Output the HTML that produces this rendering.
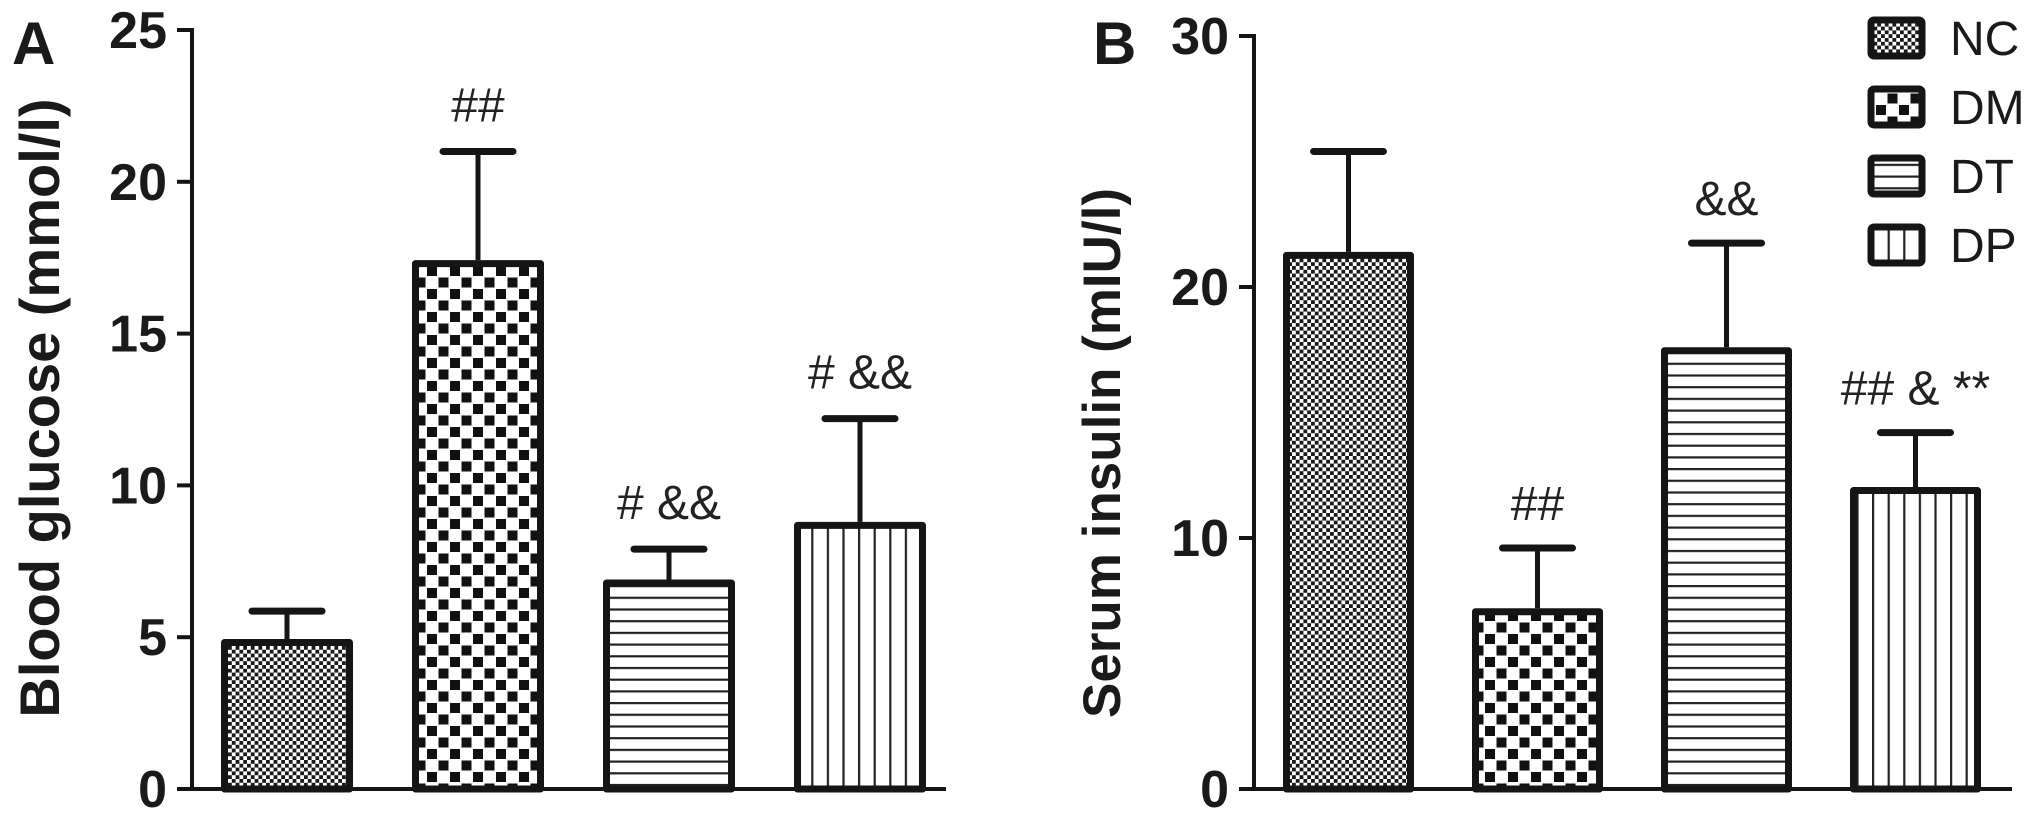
<!DOCTYPE html>
<html><head><meta charset="utf-8"><style>
html,body{margin:0;padding:0;background:#fff;}
svg{display:block;font-family:"Liberation Sans",Arial,sans-serif;}
</style></head><body>
<svg id="chart" width="2031" height="822" viewBox="0 0 2031 822" xmlns="http://www.w3.org/2000/svg">
<defs>
<pattern id="pNC" patternUnits="userSpaceOnUse" width="7.6" height="7.6">
<rect width="7.6" height="7.6" fill="#fff"/>
<rect x="0" y="0" width="3.8" height="3.8" fill="#1a1a1a"/><rect x="3.8" y="3.8" width="3.8" height="3.8" fill="#1a1a1a"/>
</pattern>
<pattern id="pDM" patternUnits="userSpaceOnUse" width="23" height="23">
<rect width="23" height="23" fill="#fff"/>
<rect x="1.5" y="1.5" width="10" height="10" fill="#111"/><rect x="13" y="13" width="10" height="10" fill="#111"/>
</pattern>
<pattern id="pDT" patternUnits="userSpaceOnUse" width="10" height="11.7">
<rect width="10" height="11.7" fill="#fff"/><rect y="0" width="10" height="2.2" fill="#222"/>
</pattern>
<pattern id="pDP" patternUnits="userSpaceOnUse" width="15.6" height="10">
<rect width="15.6" height="10" fill="#fff"/><rect x="0" width="2.2" height="10" fill="#222"/>
</pattern>
</defs>
<g id="gA"></g>
<g id="gB"></g>
<g id="legend"></g>
</svg>
<script>
const groups = ["NC","DM","DT","DP"];
const glucoseMeans = [4.94, 17.42, 6.9, 8.8];
const glucoseErrTop = [5.86, 21.0, 7.9, 12.2];
const glucoseNotes = ["", "##", "# &&", "# &&"];
const glucoseTicks = [0,5,10,15,20,25];
const insulinMeans = [21.4, 7.2, 17.6, 12.03];
const insulinErrTop = [25.4, 9.6, 21.75, 14.2];
const insulinNotes = ["", "##", "&&", "## & **"];
const insulinTicks = [0,10,20,30];

const NS = "http://www.w3.org/2000/svg";
function mk(tag, attrs, parent, text){
  const e = document.createElementNS(NS, tag);
  for (const k in attrs) e.setAttribute(k, attrs[k]);
  if (text !== undefined) e.textContent = text;
  parent.appendChild(e); return e;
}
const pats = ["url(#pNC)","url(#pDM)","url(#pDT)","url(#pDP)"];

function panel(g, cfg){
  const y = v => cfg.y0 - (v - 0) / cfg.max * (cfg.y0 - cfg.yTop);
  cfg.means.forEach((m,i)=>{
    const x = cfg.barX0 + i*cfg.pitch;
    const cx = x + cfg.bw/2;
    const e = mk("line",{x1:cx,x2:cx,y1:y(m),y2:y(cfg.err[i]),stroke:"#151515","stroke-width":5},g);
    
    
    const c = mk("line",{x1:cx-35,x2:cx+35,y1:y(cfg.err[i]),y2:y(cfg.err[i]),stroke:"#151515","stroke-width":7,"stroke-linecap":"round"},g);
    
    
    const r = mk("rect",{x:x+3.5,y:y(m)+3.5,width:cfg.bw-7,height:Math.max(0,cfg.y0-y(m)-3.5),fill:pats[i],stroke:"#151515","stroke-width":7,"stroke-linejoin":"round"},g);
    
    
    if (cfg.notes[i]){
      const t = mk("text",{x:cx,y:y(cfg.err[i])-cfg.noteGap,"text-anchor":"middle","font-size":48,fill:"#222"},g,cfg.notes[i]);
      
      
    }
  });
  const ya = mk("line",{x1:cfg.ax,x2:cfg.ax,y1:cfg.yTop-2,y2:cfg.y0+2,stroke:"#151515","stroke-width":4},g);
  
  
  const xa = mk("line",{x1:cfg.ax-15,x2:cfg.axEnd,y1:cfg.y0,y2:cfg.y0,stroke:"#151515","stroke-width":4},g);
  
  
  cfg.ticks.forEach(v=>{
    const tk = mk("line",{x1:cfg.ax-15,x2:cfg.ax,y1:y(v),y2:y(v),stroke:"#151515","stroke-width":4},g);
    
    
    const tl = mk("text",{x:cfg.ax-25,y:y(v)+18,"text-anchor":"end","font-size":52,"font-weight":"bold",fill:"#1a1a1a"},g,String(v));
    
    
  });
  const tt = mk("text",{x:0,y:0,"text-anchor":"middle","font-size":cfg.titleSize,"font-weight":"bold",fill:"#1a1a1a",transform:`translate(${cfg.titleX},${cfg.titleY}) rotate(-90)`},g,cfg.title);
  
  
  const pl = mk("text",{x:cfg.labelX,y:64,"font-size":60,"font-weight":"bold",fill:"#1a1a1a"},g,cfg.label);
  
  
}

panel(document.getElementById("gA"),{means:glucoseMeans,err:glucoseErrTop,notes:glucoseNotes,ticks:glucoseTicks,max:25,y0:789,yTop:30,ax:192,axEnd:946,barX0:221,pitch:191,bw:132,noteGap:30,title:"Blood glucose (mmol/l)",titleSize:56,titleX:59,titleY:408,label:"A",labelX:12});
panel(document.getElementById("gB"),{means:insulinMeans,err:insulinErrTop,notes:insulinNotes,ticks:insulinTicks,max:30,y0:789,yTop:36,ax:1254,axEnd:2012,barX0:1283,pitch:189,bw:131,noteGap:28,title:"Serum insulin (mIU/l)",titleSize:53,titleX:1120,titleY:453,label:"B",labelX:1093});

const lg = document.getElementById("legend");
groups.forEach((gname,i)=>{
  const yy = 17 + i*69;
  const b = mk("rect",{x:1871,y:yy+3,width:51,height:36,fill:pats[i],stroke:"#151515","stroke-width":7,rx:3},lg);
  
  
  const t = mk("text",{x:1950,y:yy+38,"font-size":48,fill:"#1a1a1a"},lg,gname);
  
  
});
</script>
</body></html>
